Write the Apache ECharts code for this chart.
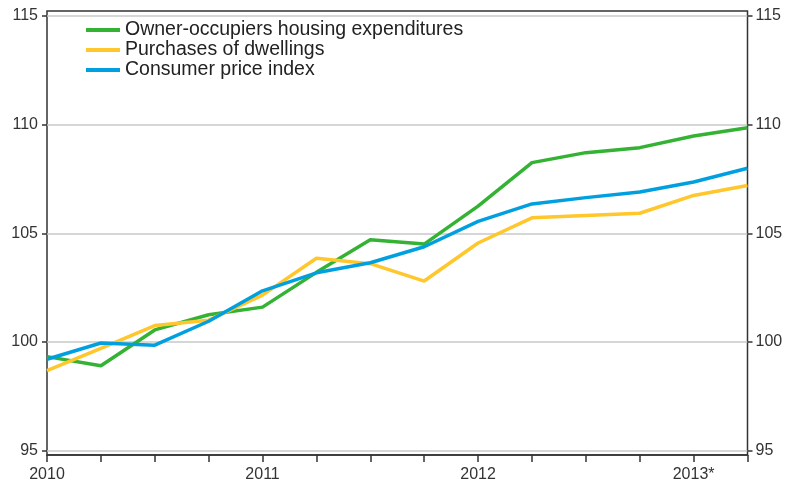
<!DOCTYPE html>
<html>
<head>
<meta charset="utf-8">
<script src="https://cdn.jsdelivr.net/npm/echarts@6/dist/echarts.min.js"></script>
<style>
html,body{margin:0;padding:0;background:#fff;}
#chart{width:788px;height:485px;}
</style>
</head>
<body>
<div id="chart"></div>
<script>
var categories = ['2010Q1','2010Q2','2010Q3','2010Q4','2011Q1','2011Q2','2011Q3','2011Q4','2012Q1','2012Q2','2012Q3','2012Q4','2013Q1','2013Q2'];
var tickLabels = ['2010','','','','2011','','','','2012','','','','2013*',''];
var ownerOccupiers = [99.32, 98.9, 100.55, 101.25, 101.6, 103.2, 104.7, 104.5, 106.25, 108.25, 108.71, 108.94, 109.48, 109.86];
var purchasesDwellings = [98.68, 99.7, 100.75, 101.0, 102.15, 103.85, 103.6, 102.8, 104.55, 105.71, 105.82, 105.92, 106.74, 107.2];
var consumerPriceIndex = [99.2, 99.95, 99.85, 100.95, 102.35, 103.18, 103.64, 104.38, 105.55, 106.35, 106.64, 106.9, 107.36, 107.99];
var seriesNames = ['Owner-occupiers housing expenditures', 'Purchases of dwellings', 'Consumer price index'];
var colors = ['#33b233', '#ffc72c', '#00a0e0'];

var chart = echarts.init(document.getElementById('chart'), null, {renderer: 'canvas'});
var font = 'Liberation Sans, Arial, sans-serif';
var option = {
  animation: false,
  backgroundColor: '#ffffff',
  color: colors,
  textStyle: {fontFamily: font},
  legend: {
    orient: 'vertical',
    left: 81,
    top: 15,
    itemWidth: 34,
    itemHeight: 4,
    itemGap: 0,
    icon: 'rect',
    textStyle: {fontSize: 19.5, color: '#222', fontFamily: font, lineHeight: 20},
    data: seriesNames
  },
  grid: [
    {left: 47, right: 40.5, top: 16, bottom: 34.5, show: false},
    {left: 47, right: 40.5, top: 11, bottom: 30, show: true, borderColor: '#333', borderWidth: 1.5, backgroundColor: 'transparent'}
  ],
  xAxis: [
    {gridIndex: 0, type: 'category', data: categories, boundaryGap: false, show: false},
    {gridIndex: 1, type: 'category', data: categories, boundaryGap: false,
     axisLine: {show: true, lineStyle: {color: '#333', width: 1.5}},
     axisTick: {show: true, length: 7, interval: 0, lineStyle: {color: '#333', width: 1.5}},
     axisLabel: {interval: 0, margin: 12, fontSize: 16, color: '#333', fontFamily: font,
       formatter: function (v, i) { return tickLabels[i]; }},
     splitLine: {show: false}}
  ],
  yAxis: [
    {gridIndex: 0, type: 'value', min: 95, max: 115, interval: 5, position: 'left',
     axisLine: {show: false},
     axisTick: {show: true, length: 5, lineStyle: {color: '#333', width: 1.5}},
     axisLabel: {fontSize: 16, color: '#333', margin: 9, fontFamily: font},
     splitLine: {show: true, lineStyle: {color: '#c8c8c8', width: 1.5}}},
    {gridIndex: 0, type: 'value', min: 95, max: 115, interval: 5, position: 'right',
     axisLine: {show: false},
     axisTick: {show: true, length: 5, lineStyle: {color: '#333', width: 1.5}},
     axisLabel: {fontSize: 16, color: '#333', margin: 8, fontFamily: font},
     splitLine: {show: false}},
    {gridIndex: 1, type: 'value', min: 0, max: 1, show: false, splitLine: {show: false}}
  ],
  series: [
    {name: seriesNames[0], type: 'line', xAxisIndex: 0, yAxisIndex: 0, data: ownerOccupiers, showSymbol: false, lineStyle: {width: 3.5}, z: 3},
    {name: seriesNames[1], type: 'line', xAxisIndex: 0, yAxisIndex: 0, data: purchasesDwellings, showSymbol: false, lineStyle: {width: 3.5}, z: 3},
    {name: seriesNames[2], type: 'line', xAxisIndex: 0, yAxisIndex: 0, data: consumerPriceIndex, showSymbol: false, lineStyle: {width: 3.5}, z: 3}
  ]
};
chart.setOption(option);
</script>
</body>
</html>
